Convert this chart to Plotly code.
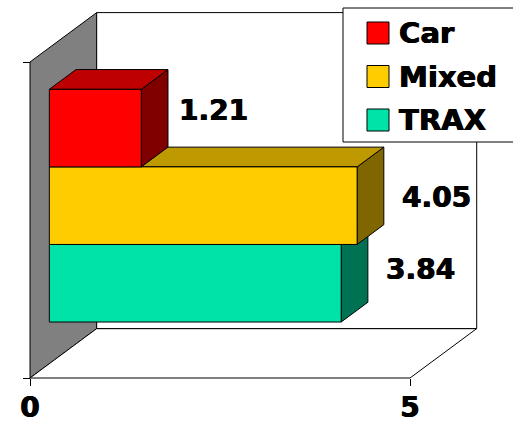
import plotly.graph_objects as go

# ---- data -------------------------------------------------------------
series = ["Car", "Mixed", "TRAX"]
values = [1.21, 4.05, 3.84]
x_ticks = [0, 5]
x_tick_labels = ["0", "5"]

# ---- colours (front, top, side) ---------------------------------------
front_colors = ["#FF0000", "#FFCC00", "#00E3A8"]
top_colors = ["#BF0000", "#BF9900", "#00AA7E"]
side_colors = ["#800000", "#806600", "#007254"]
wall_color = "#808080"

# ---- page / projection layout -----------------------------------------
W, H = 513, 424
ORIGIN_PX = (30, 378)          # pixel of (x=0, y=0) on the front plane
X_UNIT_PX = 76.0               # pixels per value unit
Y_UNIT_PX = 316.0              # pixels for the full category height
DEPTH_PX = (66.7, 49.4)        # oblique offset of the back wall
X_MAX = 5                      # value-axis extent of the floor

DX = DEPTH_PX[0] / X_UNIT_PX
DY = DEPTH_PX[1] / Y_UNIT_PX
BAR_FRONT, BAR_BACK = 0.29, 0.69   # bar depth as fraction of the box depth
GROUP_FRAC = 0.7364                # share of the category used by the bars
BAR_H = GROUP_FRAC / len(series)

FONT = "DejaVu Sans"
HEAVY = "0.6px 0 0 black, -0.4px 0 0 black"   # thickens the bold strokes


def bold(size):
    return dict(family=FONT, size=size, color="black", weight="bold",
                shadow=HEAVY)


fig = go.Figure()


def poly(xs, ys, fill, line="black", width=1):
    fig.add_trace(go.Scatter(
        x=list(xs) + [xs[0]], y=list(ys) + [ys[0]],
        mode="lines", fill="toself", fillcolor=fill,
        line=dict(color=line, width=width),
        hoverinfo="skip", showlegend=False))


# ---- walls and floor ---------------------------------------------------
poly([0, DX, DX, 0], [0, DY, 1 + DY, 1], wall_color)
poly([0, X_MAX, X_MAX + DX, DX], [0, 0, DY, DY], "white")
poly([DX, X_MAX + DX, X_MAX + DX, DX], [DY, DY, 1 + DY, 1 + DY], "white")

# ---- 3-D bars (drawn bottom-up so upper bars overlap lower tops) -------
fx, fy = BAR_FRONT * DX, BAR_FRONT * DY
bx, by = BAR_BACK * DX, BAR_BACK * DY
n = len(series)
order = list(range(n))[::-1]          # last series sits at the bottom
label_nudge_px = [(-6, -2), (1, -12), (1, -6)]
for slot, i in enumerate(order):
    v = values[i]
    y0 = (1 - GROUP_FRAC) / 2 + slot * BAR_H
    y1 = y0 + BAR_H
    # side face
    poly([fx + v, bx + v, bx + v, fx + v],
         [y0 + fy, y0 + by, y1 + by, y1 + fy], side_colors[i])
    # top face
    poly([fx, fx + v, bx + v, bx],
         [y1 + fy, y1 + fy, y1 + by, y1 + by], top_colors[i])
    # front face
    poly([fx, fx + v, fx + v, fx],
         [y0 + fy, y0 + fy, y1 + fy, y1 + fy], front_colors[i])
    # value label
    fig.add_annotation(
        x=bx + v, y=(y0 + y1) / 2 + by, text=f"{v:.2f}",
        xanchor="left", yanchor="middle", showarrow=False,
        xshift=15 + label_nudge_px[i][0], yshift=label_nudge_px[i][1],
        font=bold(28))

# ---- legend box ---------------------------------------------------------
def px_x(p):
    return p / W


def px_y(p):
    return 1 - p / H


fig.add_shape(type="rect", xref="paper", yref="paper",
              x0=px_x(343), x1=px_x(W + 5), y0=px_y(142), y1=px_y(8),
              line=dict(color="black", width=1), fillcolor="white",
              layer="above")
for i, name in enumerate(series):
    cy = 33 + i * 43.5
    fig.add_shape(type="rect", xref="paper", yref="paper",
                  x0=px_x(367), x1=px_x(389), y0=px_y(cy + 11), y1=px_y(cy - 11),
                  line=dict(color="black", width=1), fillcolor=front_colors[i],
                  layer="above")
    fig.add_annotation(xref="paper", yref="paper", x=px_x(397), y=px_y(cy),
                       text=name, showarrow=False, xanchor="left",
                       yanchor="middle", font=bold(29))

# ---- axes -----------------------------------------------------------------
ox, oy = ORIGIN_PX
fig.update_xaxes(
    range=[-ox / X_UNIT_PX, (W - ox) / X_UNIT_PX],
    anchor="free", position=(H - oy) / H, automargin=False,
    tickvals=x_ticks, ticktext=x_tick_labels,
    ticks="outside", ticklen=7, tickcolor="black", tickwidth=1,
    ticklabelstandoff=-3, tickfont=bold(28),
    showline=False, showgrid=False, zeroline=False, fixedrange=True)
fig.update_yaxes(
    range=[-(H - oy) / Y_UNIT_PX, oy / Y_UNIT_PX],
    anchor="free", position=ox / W, automargin=False,
    tickvals=[0, 1], showticklabels=False,
    ticks="outside", ticklen=7, tickcolor="black", tickwidth=1,
    showline=False, showgrid=False, zeroline=False, fixedrange=True)

fig.update_layout(
    width=W, height=H,
    margin=dict(l=0, r=0, t=0, b=0),
    paper_bgcolor="white", plot_bgcolor="white",
    showlegend=False,
)

fig.write_html("out.html")
